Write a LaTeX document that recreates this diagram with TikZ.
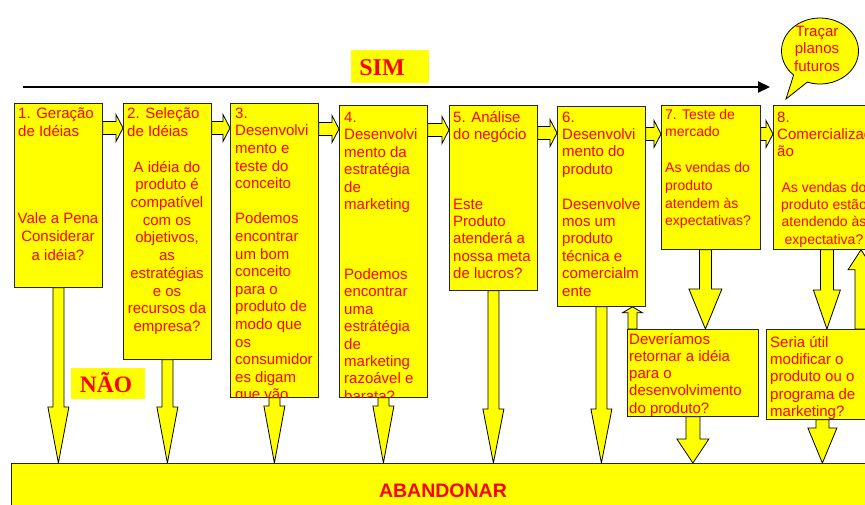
\documentclass[tikz,border=0pt]{standalone}
\usepackage{fontspec}
\setmainfont{Liberation Sans}
\newfontfamily\titlefont{Liberation Serif}
\usetikzlibrary{calc,arrows.meta,shapes.callouts}
\pgfdeclarelayer{back}
\pgfsetlayers{back,main}

\definecolor{boxyellow}{RGB}{255,255,0}
\definecolor{textred}{RGB}{255,0,0}

\tikzset{
  stage/.style={draw=black!85, fill=boxyellow, line width=0.8pt, inner sep=0pt, anchor=north west},
  lbl/.style={text=textred, inner sep=0pt, font=\fontsize{15}{#1}\selectfont, align=left, anchor=north west},
  lbl/.default=17.6,
  clbl/.style={lbl=#1, align=center, anchor=north},
  clbl/.default=17.6,
  % block arrows: shaft half width, head half width, head length
  downblock/.style n args={3}{fill=boxyellow, draw=black, line width=0.8pt, line join=miter,
    to path={let \p1=(\tikztostart), \p2=(\tikztotarget) in
      (\x1-#1,\y1) -- (\x1-#1,\y2+#3) -- (\x1-#2,\y2+#3) -- (\x1,\y2)
      -- (\x1+#2,\y2+#3) -- (\x1+#1,\y2+#3) -- (\x1+#1,\y1) -- cycle}},
  upblock/.style n args={3}{fill=boxyellow, draw=black, line width=0.8pt, line join=miter,
    to path={let \p1=(\tikztostart), \p2=(\tikztotarget) in
      (\x1-#1,\y1) -- (\x1-#1,\y2-#3) -- (\x1-#2,\y2-#3) -- (\x1,\y2)
      -- (\x1+#2,\y2-#3) -- (\x1+#1,\y2-#3) -- (\x1+#1,\y1) -- cycle}},
  rightblock/.style n args={3}{fill=boxyellow, draw=black, line width=0.8pt, line join=miter,
    to path={let \p1=(\tikztostart), \p2=(\tikztotarget) in
      (\x1,\y1+#1) -- (\x2-#3,\y1+#1) -- (\x2-#3,\y1+#2) -- (\x2,\y1)
      -- (\x2-#3,\y1-#2) -- (\x2-#3,\y1-#1) -- (\x1,\y1-#1) -- cycle}},
  rarrow/.style={rightblock={6.5pt}{13.5pt}{7pt}},
  dnarrow/.style={downblock={5.5pt}{10.5pt}{#1}},
}

\begin{document}
\begin{tikzpicture}[x=1pt,y=-1pt]
\useasboundingbox (0,0) rectangle (865,504);

% stage boxes
\node[stage, minimum width=88pt, minimum height=184pt] (b1) at (14,103) {};
\node[stage, minimum width=88pt, minimum height=256pt] (b2) at (123,103) {};
\node[stage, minimum width=88pt, minimum height=294pt] (b3) at (230,103) {};
\node[stage, minimum width=88pt, minimum height=292pt] (b4) at (339,105) {};
\node[stage, minimum width=88pt, minimum height=185pt] (b5) at (449,105) {};
\node[stage, minimum width=88pt, minimum height=200pt] (b6) at (557,106) {};
\node[stage, minimum width=99pt, minimum height=144pt] (b7) at (661,105) {};
\node[stage, minimum width=100pt, minimum height=144pt] (b8) at (773,105) {};
\node[stage, minimum width=131pt, minimum height=87pt] (dev) at (627,329) {};
\node[stage, minimum width=114pt, minimum height=90pt] (seria) at (766,329) {};
\node[stage, minimum width=870pt, minimum height=60pt] (abandon) at (11,463) {};

% stage texts
\node[lbl=18] (t1a) at (18,105.4) {\strut 1. Geração\\de Idéias};
\node[clbl=18.5] (t1b) at (58,210) {\strut Vale a Pena\\Considerar\\a idéia?};

\node[lbl=18] (t2a) at (127,105.4) {\strut 2. Seleção\\de Idéias};
\node[clbl=17.7] (t2b) at (167,159.6) {\strut A idéia do\\produto é\\compatível\\com os\\objetivos,\\as\\estratégias\\e os\\recursos da\\empresa?};

\begin{scope}
  \clip (b3.north west) rectangle (b3.south east);
  \node[lbl=17.6] (t3) at (235,105.7) {\strut 3.\\Desenvolvi\\mento e\\teste do\\conceito\\[17.6pt]Podemos\\encontrar\\um bom\\conceito\\para o\\produto de\\modo que\\os\\consumidor\\es digam\\que vão};
\end{scope}

\begin{scope}
  \clip (b4.north west) rectangle (b4.south east);
  \node[lbl=17.45] (t4) at (344,109.8) {\strut 4.\\Desenvolvi\\mento da\\estratégia\\de\\marketing\\[52.35pt]Podemos\\encontrar\\uma\\estrátégia\\de\\marketing\\razoável e\\barata?};
\end{scope}

\node[lbl=17.4] (t5) at (453,109.8) {\strut 5. Análise\\do negócio\\[52.2pt]Este\\Produto\\atenderá a\\nossa meta\\de lucros?};

\node[lbl=17.4] (t6) at (562,109.8) {\strut 6.\\Desenvolvi\\mento do\\produto\\[17.4pt]Desenvolve\\mos um\\produto\\técnica e\\comercialm\\ente};

\node[lbl=17.8, font=\fontsize{14}{17.8}\selectfont] (t7) at (665,106.5) {\strut 7. Teste de\\mercado\\[17.8pt]As vendas do\\produto\\atendem às\\expectativas?};

\begin{scope}
  \clip (b8.north west) rectangle (b8.south east);
  \node[lbl=17.3] (t8a) at (777,109.9) {\strut 8.\\Comercializaç\\ão};
  \node[clbl=17.3, font=\fontsize{14}{17.3}\selectfont] (t8b) at (824,179.9) {\strut As vendas do\\produto estão\\atendendo às\\expectativa?};
\end{scope}

\begin{scope}
  \clip (dev.north west) rectangle (dev.south east);
  \node[lbl=17.2] (tdev) at (629,332) {\strut Deveríamos\\retornar a idéia\\para o\\desenvolvimento\\do produto?};
\end{scope}

\begin{scope}
  \clip (seria.north west) rectangle (seria.south east);
  \node[lbl=17.3] (tseria) at (770,334.9) {\strut Seria útil\\modificar o\\produto ou o\\programa de\\marketing?};
\end{scope}

\node[text=textred, font=\fontsize{19.5}{22}\selectfont\bfseries, anchor=base, inner sep=0pt] (abtxt) at (443,497) {ABANDONAR};

% SIM / NAO labels
\node[fill=boxyellow, minimum width=78pt, minimum height=33pt, inner sep=0pt, anchor=north west] (simbox) at (351,50) {};
\node[text=textred, font=\titlefont\bfseries\fontsize{24}{28}\selectfont, anchor=base, inner sep=0pt] (simtxt) at (382,75) {SIM};
\node[fill=boxyellow, minimum width=74pt, minimum height=31pt, inner sep=0pt, anchor=north west] (naobox) at (71,368) {};
\node[text=textred, font=\titlefont\bfseries\fontsize{23.5}{28}\selectfont, anchor=base, inner sep=0pt] (naotxt) at (106,392) {NÃO};

% "yes" flow arrow
\coordinate (simL) at (23,87);
\coordinate (simR) at (770,87);
\draw[line width=2.2pt, -{Triangle[length=12pt,width=11pt]}] (simL) -- (simR);

% speech bubble
\coordinate (bubtip) at (786,99);
\node[ellipse callout, callout absolute pointer=(bubtip), callout pointer arc=24,
      draw=black, fill=boxyellow, line width=0.8pt, minimum width=77pt, minimum height=66pt,
      inner sep=0pt] (bubble) at (820,51) {};
\node[text=textred, inner sep=0pt, align=center, font=\fontsize{15}{17.5}\selectfont] (bubtxt) at (817,50) {\strut Traçar\\planos\\futuros\strut};

% block arrows
\coordinate (r1) at (0,128);
\coordinate (r2) at (0,128);
\coordinate (r3) at (0,129);
\coordinate (r4) at (0,130);
\coordinate (r5) at (0,133);
\coordinate (r6) at (0,134);
\coordinate (r7) at (0,134);
\coordinate (d7) at ([xshift=-5.5pt]b7.south);
\coordinate (d8) at ([xshift=3.5pt]b8.south);
\coordinate (dseria) at ([xshift=-1pt]seria.south);
\coordinate (udev) at ([xshift=5.5pt]dev.north west);
\coordinate (useria) at ([xshift=95pt]seria.north west);

\begin{pgfonlayer}{back}
  \draw[rarrow] (b1.east |- r1) to (b2.west |- r1);
  \draw[rarrow] (b2.east |- r2) to (b3.west |- r2);
  \draw[rarrow] (b3.east |- r3) to (b4.west |- r3);
  \draw[rarrow] (b4.east |- r4) to (b5.west |- r4);
  \draw[rarrow] (b5.east |- r5) to (b6.west |- r5);
  \draw[rarrow] (b6.east |- r6) to (b7.west |- r6);
  \draw[rarrow] (b7.east |- r7) to (b8.west |- r7);

  \draw[dnarrow=56pt] (b1.south) to (b1.south |- abandon.north);
  \draw[dnarrow=56pt] (b2.south) to (b2.south |- abandon.north);
  \draw[dnarrow=57pt] (b3.south) to (b3.south |- abandon.north);
  \draw[dnarrow=57pt] (b4.south) to (b4.south |- abandon.north);
  \draw[dnarrow=54pt] (b5.south) to (b5.south |- abandon.north);
  \draw[dnarrow=54pt] (b6.south) to (b6.south |- abandon.north);

  \draw[downblock={6pt}{16.5pt}{40pt}] (d7) to (d7 |- dev.north);
  \draw[downblock={7pt}{16pt}{24pt}] (dev.south) to (dev.south |- abandon.north);
  \draw[downblock={6.5pt}{13.5pt}{39pt}] (d8) to (d8 |- seria.north);
  \draw[downblock={6.5pt}{14.5pt}{35pt}] (dseria) to (dseria |- abandon.north);
  \draw[upblock={4.5pt}{10pt}{6pt}] (udev) to (udev |- b6.south);
  \draw[upblock={6pt}{13pt}{20pt}] (useria) to (useria |- b8.south);
\end{pgfonlayer}
\end{tikzpicture}
\end{document}
